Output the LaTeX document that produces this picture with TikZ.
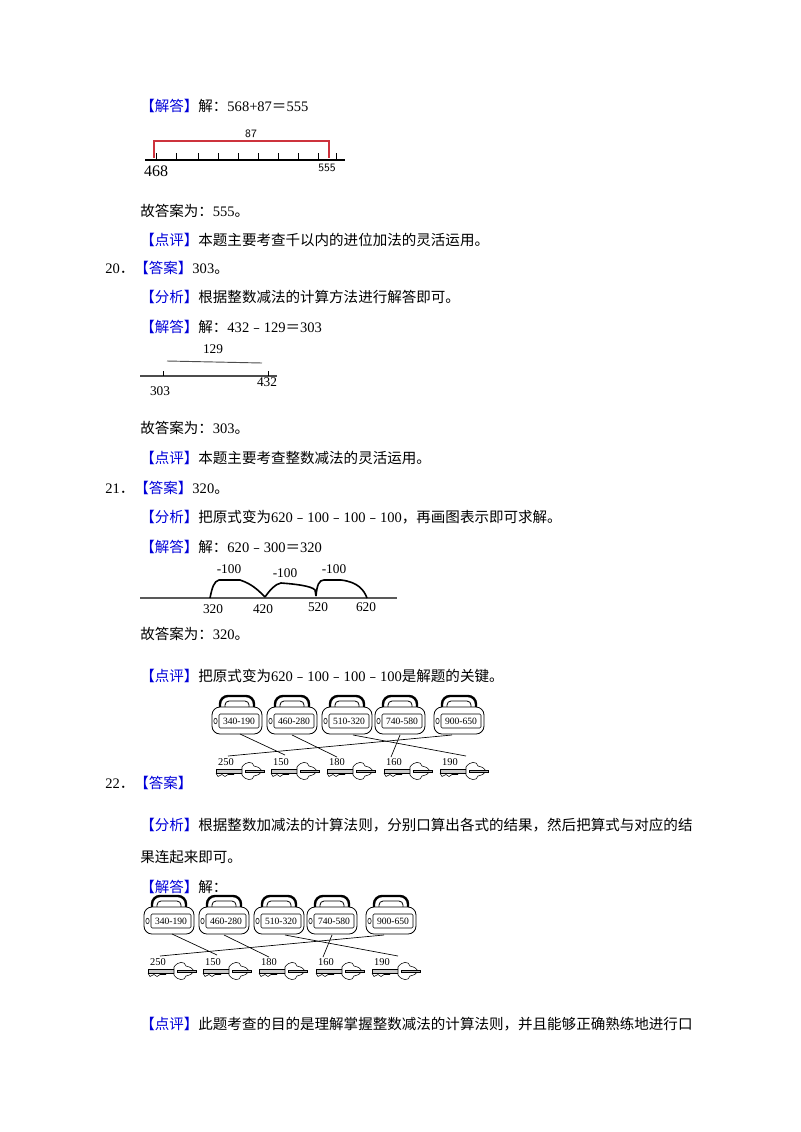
\documentclass[tikz,border=0pt]{standalone}
\usepackage{fontspec}
\setmainfont{Liberation Serif}
\newfontfamily\cjk{Noto Sans CJK SC}
\newcommand{\cj}[1]{{\cjk #1}}
\definecolor{bracketred}{RGB}{205,50,60}
\newcommand{\bl}[1]{\textcolor{blue!85!black}{\cjk #1}}
\begin{document}
\begin{tikzpicture}[x=0.75pt,y=-0.75pt,
  txt/.style={anchor=west,inner sep=0pt,font=\fontsize{10.9}{12}\selectfont},
  num/.style={inner sep=0pt,font=\fontsize{9}{10}\selectfont},
  lockpic/.pic={
    \draw[line width=1.8pt,rounded corners=6pt] (-17,-2) -- (-17,-15) -- (17,-15) -- (17,-2);
    \draw[line width=0.6pt,rounded corners=3pt] (-12,-2) -- (-12,-10) -- (12,-10) -- (12,-2);
    \draw[rounded corners=6pt,fill=white,line width=0.6pt] (-25,-4) rectangle (25,23);
    \draw[rounded corners=1pt] (-18,3) rectangle (22,17);
    \draw (-21.5,10) ellipse (1.7 and 2.8);
    \node[inner sep=0pt,font=\fontsize{7.2}{7.5}\selectfont] at (2,10) {\tikzpictext};
  },
  keypic/.pic={
    \draw[fill=gray!40] (-22,-2.2) rectangle (4,2.2);
    \draw (-22,2.2) -- (-20,5.5) -- (-16,3.5) -- (-13,5.5) -- (-10,3.5) -- (-4,3.5);
    \draw[fill=white] (4,-4) .. controls (8,-10) and (15,-10) .. (16,-5) .. controls (21,-4) and (23,-2) .. (24,0)
      .. controls (23,2) and (21,4) .. (16,5) .. controls (15,10) and (8,10) .. (4,4) -- cycle;
    \draw[fill=gray!60] (7,-1.2) rectangle (26,1.2);
  },
  lineL/.style={line width=0.5pt}]
\useasboundingbox (0,0) rectangle (800,1132);

% ---- item 19 tail
\node[txt] (t1) at (140,106) {\bl{【解答】}\cj{解：}568+87\cj{＝}555};
\coordinate (r1) at (154,158); \coordinate (r2) at (154,141);
\coordinate (r3) at (329,141); \coordinate (r4) at (329,158);
\draw[bracketred,line width=0.8pt] (r1) -- (r2) -- (r3) -- (r4);
\node[num,font=\fontsize{8.5}{9}\sffamily] (n87) at (251,134) {87};
\coordinate (a1s) at (145,160); \coordinate (a1e) at (345,160);
\draw[line width=0.8pt] (a1s) -- (a1e);
\foreach \x in {156,176,198,218,238,258,278,298,318,336}{\draw (\x,153) -- (\x,160);}
\node[num,font=\fontsize{12}{13}\selectfont] (n468) at (156,171) {468};
\node[num,font=\fontsize{8.5}{9}\sffamily] (n555) at (327,168) {555};
\node[txt] (t2) at (140,211) {\cj{故答案为：}555\cj{。}};
\node[txt] (t3) at (140,240) {\bl{【点评】}\cj{本题主要考查千以内的进位加法的灵活运用。}};

% ---- item 20
\node[txt] (t4) at (105,268) {20\cj{．}\bl{【答案】}303\cj{。}};
\node[txt] (t5) at (140,297) {\bl{【分析】}\cj{根据整数减法的计算方法进行解答即可。}};
\node[txt] (t6) at (140,327) {\bl{【解答】}\cj{解：}432\cj{﹣}129\cj{＝}303};
\node[num,font=\fontsize{10}{11}\selectfont] (n129) at (213,349) {129};
\coordinate (b1) at (167,361); \coordinate (b2) at (262,363);
\draw[line width=0.7pt,gray!60!black] (b1) -- (b2);
\coordinate (a2s) at (140,376); \coordinate (a2e) at (277,376);
\draw[line width=0.9pt,gray!60!black] (a2s) -- (a2e);
\draw (163,371) -- (163,376); \draw (268,371) -- (268,376);
\node[num,font=\fontsize{10}{11}\selectfont] (n303) at (160,391) {303};
\node[num,font=\fontsize{10}{11}\selectfont] (n432) at (267,382) {432};
\node[txt] (t7) at (140,428) {\cj{故答案为：}303\cj{。}};
\node[txt] (t8) at (140,458) {\bl{【点评】}\cj{本题主要考查整数减法的灵活运用。}};

% ---- item 21
\node[txt] (t9) at (105,488) {21\cj{．}\bl{【答案】}320\cj{。}};
\node[txt] (t10) at (140,517) {\bl{【分析】}\cj{把原式变为}620\cj{﹣}100\cj{﹣}100\cj{﹣}100\cj{，再画图表示即可求解。}};
\node[txt] (t11) at (140,547) {\bl{【解答】}\cj{解：}620\cj{﹣}300\cj{＝}320};
\coordinate (a3s) at (140,598); \coordinate (a3e) at (397,598);
\draw[line width=0.9pt,gray!70!black] (a3s) -- (a3e);
\coordinate (p320) at (210,598); \coordinate (p420) at (265,597);
\coordinate (p520) at (316,596); \coordinate (p620) at (367,598);
\draw[line width=1.2pt] (p320) .. controls (212,588) and (214,581) .. (219,580) -- (240,580)
  .. controls (252,584) and (258,590) .. (p420);
\draw[line width=1.2pt] (p420) .. controls (270,590) and (275,584) .. (281,583)
  .. controls (295,584) and (312,586) .. (315,590) -- (p520);
\draw[line width=1.2pt] (p520) .. controls (317,585) and (319,580) .. (324,580) -- (341,580)
  .. controls (358,582) and (364,590) .. (p620);
\foreach \x/\y/\n in {229/569/m1,285/573/m2,334/569/m3}{\node[num,font=\fontsize{10}{11}\selectfont] (\n) at (\x,\y) {-100};}
\node[num,font=\fontsize{10}{11}\selectfont] (n320) at (213,609) {320};
\node[num,font=\fontsize{10}{11}\selectfont] (n420) at (263,609) {420};
\node[num,font=\fontsize{10}{11}\selectfont] (n520) at (318,607) {520};
\node[num,font=\fontsize{10}{11}\selectfont] (n620) at (366,607) {620};
\node[txt] (t12) at (140,634) {\cj{故答案为：}320\cj{。}};
\node[txt] (t13) at (140,676) {\bl{【点评】}\cj{把原式变为}620\cj{﹣}100\cj{﹣}100\cj{﹣}100\cj{是解题的关键。}};

% ---- item 22 pictures
\foreach \dx/\dy/\s in {0/0/A,-68/200/B}{
 \begin{scope}[shift={(\dx,\dy)}]
  \foreach \x/\t/\i in {237/340-190/1,292/460-280/2,347/510-320/3,400/740-580/4,459/900-650/5}{
    \pic[pic text={\t}] at (\x,711) {lockpic};
    \coordinate (L\s\i) at (\x,734);
  }
  \foreach \x/\t/\i in {238/250/1,293/150/2,349/180/3,406/160/4,462/190/5}{
    \pic at (\x,771) {keypic};
    \node[num,font=\fontsize{7.8}{8}\selectfont] (K\s\i) at (\x-12,762) {\t};
  }
  \coordinate (c1\s) at (240,734); \coordinate (d1\s) at (285,755);
  \coordinate (c2\s) at (292,735); \coordinate (d2\s) at (337,757);
  \coordinate (c3\s) at (353,735); \coordinate (d3\s) at (466,756);
  \coordinate (c4\s) at (400,735); \coordinate (d4\s) at (391,757);
  \coordinate (c5\s) at (452,735); \coordinate (d5\s) at (228,756);
  \foreach \i in {1,...,5}{\draw[lineL] (c\i\s) -- (d\i\s);}
 \end{scope}
}
\node[txt] (t14) at (105,783) {22\cj{．}\bl{【答案】}};
\node[txt] (t15) at (140,825) {\bl{【分析】}\cj{根据整数加减法的计算法则，分别口算出各式的结果，然后把算式与对应的结}};
\node[txt] (t16) at (140,857) {\cj{果连起来即可。}};
\node[txt] (t17) at (140,887) {\bl{【解答】}\cj{解：}};
\node[txt] (t18) at (140,1024) {\bl{【点评】}\cj{此题考查的目的是理解掌握整数减法的计算法则，并且能够正确熟练地进行口}};
\end{tikzpicture}
\end{document}
